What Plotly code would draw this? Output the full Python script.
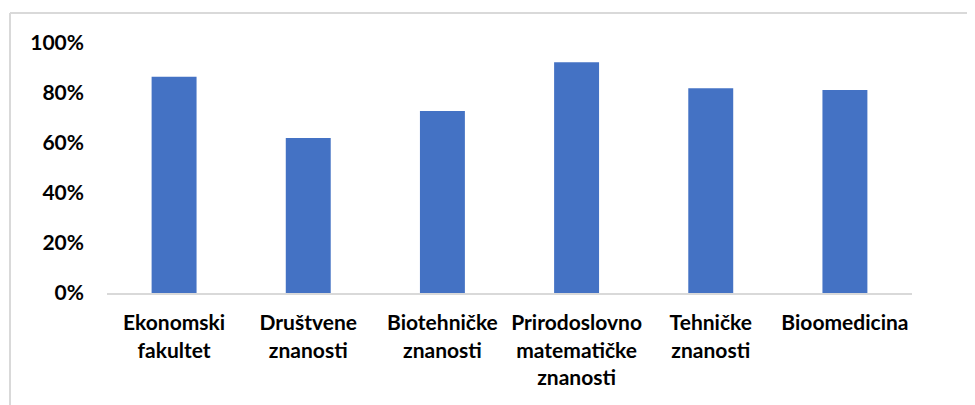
import plotly.graph_objects as go

categories = ["Ekonomski<br>fakultet", "Društvene<br>znanosti", "Biotehničke<br>znanosti",
              "Prirodoslovno<br>matematičke<br>znanosti", "Tehničke<br>znanosti", "Bioomedicina"]
values = [0.865, 0.62, 0.728, 0.923, 0.819, 0.812]
y_ticks = [0, 0.2, 0.4, 0.6, 0.8, 1.0]
y_tick_labels = ["0%", "20%", "40%", "60%", "80%", "100%"]

W, H = 975, 405
L, R, T, B = 99, 71, 35, 120
pw, ph = W - L - R, H - T - B

fig = go.Figure(go.Bar(x=categories, y=values, marker=dict(color="#4472C4", line=dict(width=0))))

yfont = dict(family="Lato", size=21, color="#000000", weight="bold")
xfont = dict(family="Lato", size=21, color="#000000", weight="bold")
fig.update_layout(
    width=W, height=H,
    margin=dict(l=L, r=R, t=T, b=B, pad=0),
    paper_bgcolor="white", plot_bgcolor="white",
    bargap=0.665,
    showlegend=False,
    font=yfont,
)
fig.update_xaxes(showgrid=False, showline=True, linecolor="#d9d9d9", linewidth=2,
                 ticks="", tickfont=xfont, tickangle=0, ticklabelstandoff=10)
fig.update_yaxes(range=[0, 1], tickvals=y_ticks, ticktext=y_tick_labels, showgrid=False,
                 showline=False, zeroline=False, ticks="", tickfont=yfont, ticklabelstandoff=22)

# chart frame (top and left edges visible)
x_left = (2 - L) / pw
y_top = (H - B - 5) / ph
fig.add_shape(type="line", xref="paper", yref="paper", x0=x_left, x1=1.3, y0=y_top, y1=y_top,
              line=dict(color="#d9d9d9", width=2))
fig.add_shape(type="line", xref="paper", yref="paper", x0=x_left, x1=x_left, y0=y_top, y1=-1,
              line=dict(color="#d9d9d9", width=2))

fig.write_html("out.html")
